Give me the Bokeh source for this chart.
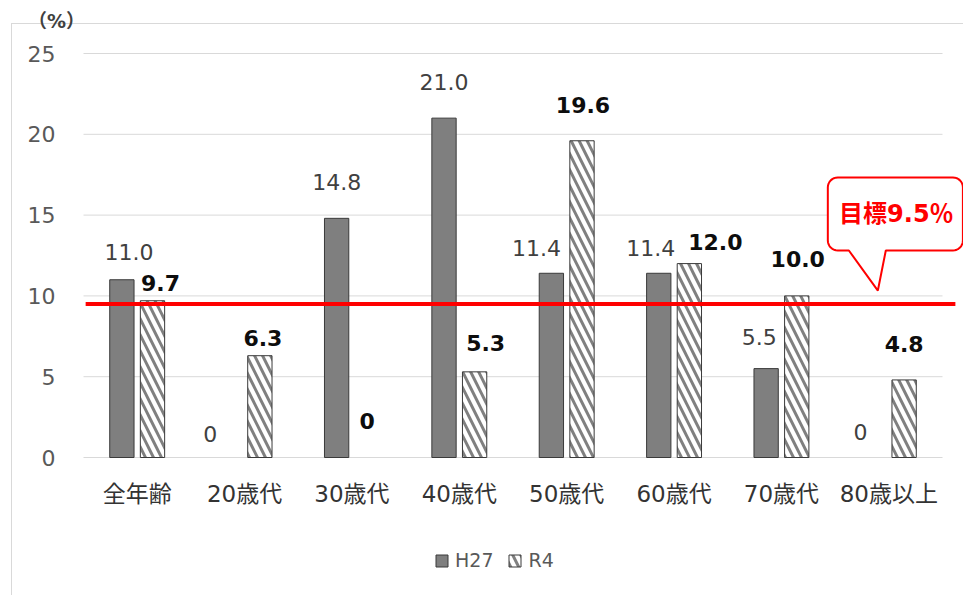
import math

from bokeh.core.properties import value
from bokeh.embed import file_html
from bokeh.models import FixedTicker, Label, Legend, LegendItem, Range1d
from bokeh.plotting import figure
from bokeh.resources import INLINE

# ---- data -------------------------------------------------------------
categories = ["全年齢", "20歳代", "30歳代", "40歳代", "50歳代", "60歳代", "70歳代", "80歳以上"]
h27 = [11.0, 0, 14.8, 21.0, 11.4, 11.4, 5.5, 0]
r4 = [9.7, 6.3, 0, 5.3, 19.6, 12.0, 10.0, 4.8]
series_names = ["H27", "R4"]
y_ticks = [0, 5, 10, 15, 20, 25]
target = 9.5

# ---- label placement (pixels): sideways nudge, height of text centre above bar top
h27_dx = [7, -19, 0, 0, -15, -8, -7, -13]
h27_dy = [28, 24, 36, 36, 25, 25, 32, 26]
r4_dx = [8, 3, 0, 11, 1, 26, 1, 0]
r4_dy = [18, 18, 37, 29, 36, 22, 37, 36]

NUM_FONT = "DejaVu Sans"
CAT_FONT = "DejaVu Sans, Noto Sans CJK JP"
GRID = "#d9d9d9"
EDGE = "#3a3a3a"

W, H = 963, 595
# plotting area: category band starts 83 px from the left, value 0 sits 457 px down
PLOT_LEFT, ZERO_Y, TOP_Y = 83, 457, 53
n = len(categories)
px_per_cat = (942 - PLOT_LEFT) / n
px_per_unit = (ZERO_Y - TOP_Y) / y_ticks[-1]

x_start = -0.5 - PLOT_LEFT / px_per_cat
x_end = x_start + W / px_per_cat
y_start = -(H - ZERO_Y) / px_per_unit
y_end = y_start + H / px_per_unit

xs = list(range(n))
offset = 0.1425
bar_w = 0.2265


def fmt(v):
    return "0" if v == 0 else f"{v:.1f}"


p = figure(
    width=W, height=H,
    x_range=Range1d(x_start, x_end), y_range=Range1d(y_start, y_end),
    output_backend="svg", toolbar_location=None,
    min_border_left=0, min_border_right=0, min_border_top=0, min_border_bottom=0,
    outline_line_color=None, background_fill_alpha=0, border_fill_alpha=0,
    styles={
        "background": (
            f"linear-gradient({GRID}, {GRID}) 11px 23px / 1px calc(100% - 23px) no-repeat, "
            f"linear-gradient({GRID}, {GRID}) 11px 23px / calc(100% - 11px) 1px no-repeat, "
            "#ffffff"
        )
    },
)

# axes pinned to the zero line and the left edge of the category band
p.xgrid.visible = False
p.ygrid.visible = False
for ax in (p.xaxis, p.yaxis):
    ax.axis_line_color = None
    ax.major_tick_line_color = None
    ax.minor_tick_line_color = None
    ax.major_tick_out = 0
    ax.major_tick_in = 0
    ax.minor_tick_out = 0

p.yaxis.fixed_location = -0.5
p.yaxis.ticker = FixedTicker(ticks=y_ticks)
p.yaxis.major_label_text_font = NUM_FONT
p.yaxis.major_label_text_font_size = "22px"
p.yaxis.major_label_text_color = "#595959"
p.yaxis.major_label_standoff = 28

p.xaxis.fixed_location = 0
p.xaxis.ticker = FixedTicker(ticks=xs)
p.xaxis.major_label_overrides = {i: c for i, c in enumerate(categories)}
p.xaxis.major_label_text_font = CAT_FONT
p.xaxis.major_label_text_font_size = "23px"
p.xaxis.major_label_text_color = "#333333"
p.xaxis.major_label_standoff = 23

# horizontal grid lines over the category span
p.segment(x0=[-0.5] * len(y_ticks), x1=[n - 0.5] * len(y_ticks),
          y0=y_ticks, y1=y_ticks, line_color=GRID, line_width=1)

# bars (no outline on empty bars)
x_h27 = [x - offset for x in xs]
x_r4 = [x + offset for x in xs]
r_h27 = p.vbar(x=x_h27, top=h27, width=bar_w, bottom=0,
               fill_color="#7f7f7f", line_color=EDGE, line_width=1,
               line_alpha=[0 if v == 0 else 1 for v in h27])
r_r4 = p.vbar(x=x_r4, top=r4, width=bar_w, bottom=0,
              fill_color="white", line_color=EDGE, line_width=1,
              line_alpha=[0 if v == 0 else 1 for v in r4],
              hatch_pattern="left_diagonal_line", hatch_color="#808080",
              hatch_scale=16, hatch_weight=3)

# target line
p.segment(x0=[-0.48], x1=[7.62], y0=[target], y1=[target],
          line_color="#ff0000", line_width=4)

# value labels
p.text(x=x_h27, y=h27, text=[fmt(v) for v in h27],
       x_offset=h27_dx, y_offset=[-d for d in h27_dy],
       text_align="center", text_baseline="middle",
       text_font=value(NUM_FONT), text_font_size="22px", text_color="#404040")
p.text(x=x_r4, y=r4, text=[fmt(v) for v in r4],
       x_offset=r4_dx, y_offset=[-d for d in r4_dy],
       text_align="center", text_baseline="middle",
       text_font=value(NUM_FONT), text_font_size="22px", text_font_style="bold",
       text_color="#0d0d0d")


# callout for the target
def callout(x0, x1, y0, y1, rx, ry, base_l, base_r, tip_x, tip_y, steps=8):
    px, py = [], []

    def arc(cx, cy, a0, a1):
        for k in range(steps + 1):
            a = math.radians(a0 + (a1 - a0) * k / steps)
            px.append(cx + rx * math.cos(a))
            py.append(cy + ry * math.sin(a))

    arc(x0 + rx, y1 - ry, 180, 90)
    arc(x1 - rx, y1 - ry, 90, 0)
    arc(x1 - rx, y0 + ry, 0, -90)
    px.extend([base_r, tip_x, base_l])
    py.extend([y0, tip_y, y0])
    arc(x0 + rx, y0 + ry, -90, -180)
    return px, py


cx, cy = callout(6.432, 7.690, 12.81, 17.33, 0.093, 0.62, 6.628, 6.972, 6.898, 10.33)
p.patch(cx, cy, fill_color="white", line_color="#ff0000", line_width=2)
p.text(x=[7.07], y=[15.04], text=[f"目標{target}％"],
       text_align="center", text_baseline="middle",
       text_font=value(CAT_FONT), text_font_size="24px", text_font_style="bold",
       text_color="#ff0000")

# unit caption above the value axis
p.add_layout(Label(x=-0.752, y=27.04, text="（%）",
                   text_align="center", text_baseline="middle",
                   text_font=CAT_FONT, text_font_size="19px", text_font_style="bold",
                   text_color="#404040"))

# legend under the category labels
legend = Legend(
    items=[LegendItem(label=series_names[0], renderers=[r_h27]),
           LegendItem(label=series_names[1], renderers=[r_r4])],
    orientation="horizontal", location=(434, 24),
    glyph_width=15, glyph_height=15, label_standoff=6, spacing=14,
    label_text_font=NUM_FONT, label_text_font_size="19px", label_text_color="#595959",
    border_line_color=None, background_fill_alpha=0, padding=0, margin=0,
)
p.add_layout(legend, "center")

open("out.html", "w").write(file_html(p, INLINE))
